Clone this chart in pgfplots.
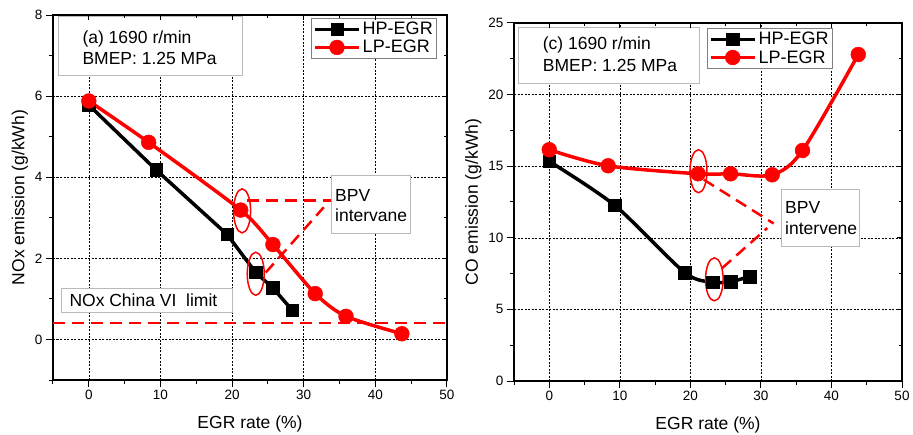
\documentclass[border=0pt]{standalone}
\usepackage{fontspec}
\setmainfont{Liberation Sans}
\usepackage{pgfplots}
\pgfplotsset{compat=1.18}
\tikzset{
 ann/.style={red, line width=2.5pt, dash pattern=on 12pt off 7pt},
 boxr/.style={draw=gray!55, line width=0.8pt, fill=white},
 txt/.style={anchor=base west, inner sep=0pt, font=\fontsize{17.5}{21}\selectfont},
}
\begin{document}
\begin{tikzpicture}
\path[use as bounding box] (0,0) rectangle (913pt,434pt);
\pgfplotsset{
 panel/.style={
  scale only axis, xmin=-5, xmax=50, xtick={0,10,...,50}, minor xtick={-5,5,15,25,35,45},
  axis line style={line width=1.2pt}, tick style={black, line width=1pt},
  major tick length=7pt, minor tick length=4pt, tick align=outside, xtick pos=left, ytick pos=left,
  xmajorgrids, ymajorgrids, major grid style={black, line width=0.6pt, dash pattern=on 2pt off 1.5pt},
  /pgf/number format/assume math mode=true,
  ticklabel style={font=\fontsize{13.5}{16}\selectfont},
  label style={font=\fontsize{17.5}{20}\selectfont},
  xlabel={EGR rate (\%)}, xlabel style={yshift=-9pt},
  legend style={draw=gray, line width=0.8pt, font=\fontsize{18}{21}\selectfont, cells={anchor=west}, inner sep=2pt},
  legend image code/.code={\draw[mark repeat=2,mark phase=2,##1] plot coordinates {(0pt,0pt) (22pt,0pt) (44pt,0pt)};},
 },
 overlay/.style={
  scale only axis, xmin=-5, xmax=50, xtick={0,10,...,50}, minor xtick={-5,5,15,25,35,45},
  axis x line*=top, axis y line*=right, axis line style={line width=1.2pt,-},
  tick style={black, line width=1pt}, major tick length=5pt, minor tick length=3pt, tick align=inside,
  xticklabels={}, yticklabels={},
 },
 hp/.style={black, line width=3.5pt, mark=square*, mark size=6.2pt, mark options={solid, line width=0.5pt}},
 lp/.style={red, line width=3.5pt, mark=*, mark size=7.4pt, mark options={solid, line width=0.5pt}},
}
% ---------------- left panel ----------------
\begin{axis}[panel, at={(53pt,54pt)}, anchor=south west, width=394pt, height=365pt,
  ymin=-1, ymax=8, ytick={0,2,...,8}, minor ytick={-1,1,3,5,7},
  ylabel={NOx emission (g/kWh)},
  legend style={at={(axis description cs:0.975,0.992)}, anchor=north east}]
\addplot[red, line width=2.5pt, dash pattern=on 12pt off 7pt, forget plot] coordinates {(-5,0.4) (50,0.4)};
\addplot[hp] coordinates {(0,5.78) (9.4,4.18) (19.3,2.59) (23.3,1.65) (25.7,1.27) (28.4,0.72)};
\addplot[lp, smooth, tension=0.45] coordinates {(0,5.88) (8.35,4.86) (21.2,3.19) (25.7,2.34) (31.6,1.13) (35.9,0.57) (43.7,0.14)};
\legend{HP-EGR, LP-EGR}
\draw[red, line width=1.5pt] (axis cs:21.4,3.17) ellipse [x radius=8.5pt, y radius=22pt];
\draw[red, line width=1.5pt] (axis cs:23.3,1.62) ellipse [x radius=8.5pt, y radius=21.5pt];
\draw[ann] (axis cs:22.1,3.43) -- (axis cs:33.75,3.43);
\draw[ann] (axis cs:24.7,1.65) -- (axis cs:32.8,3.26);
\draw[boxr] (axis description cs:0.0135,0.9953) rectangle (axis description cs:0.4815,0.8356);
\node[txt] at (axis description cs:0.0744,0.9225) {(a) 1690 r/min};
\node[txt] at (axis description cs:0.0744,0.8649) {BMEP: 1.25 MPa};
\draw[boxr] (axis description cs:0.7074,0.5616) rectangle (axis description cs:0.9079,0.4027);
\node[txt] at (axis description cs:0.7157,0.4885) {BPV};
\node[txt] at (axis description cs:0.7157,0.4337) {intervane};
\draw[boxr] (axis description cs:0.0221,0.2512) rectangle (axis description cs:0.4561,0.1852);
\node[txt] at (axis description cs:0.0414,0.2008) {NOx China VI\ \ limit};
\end{axis}
\begin{axis}[overlay, at={(53pt,54pt)}, anchor=south west, width=394pt, height=365pt,
  ymin=-1, ymax=8, ytick={0,2,...,8}, minor ytick={-1,1,3,5,7}]
\end{axis}
% ---------------- right panel ----------------
\begin{axis}[panel, at={(514pt,53pt)}, anchor=south west, width=388pt, height=358pt,
  ymin=0, ymax=25, ytick={0,5,...,25}, minor ytick={2.5,7.5,12.5,17.5,22.5},
  ylabel={CO emission (g/kWh)},
  legend style={at={(axis description cs:0.822,0.986)}, anchor=north east}]
\addplot[hp, smooth, tension=0.45] coordinates {(0,15.34) (9.3,12.26) (19.2,7.57) (23.2,6.9) (25.7,6.94) (28.4,7.29)};
\addplot[lp, smooth, tension=0.5] coordinates {(0,16.15) (8.35,15.03) (21.1,14.47) (25.7,14.47) (31.6,14.4) (35.9,16.1) (43.8,22.8)};
\legend{HP-EGR, LP-EGR}
\draw[red, line width=1.5pt] (axis cs:21.15,14.65) ellipse [x radius=8.5pt, y radius=21.5pt];
\draw[red, line width=1.5pt] (axis cs:23.4,7.1) ellipse [x radius=8.8pt, y radius=21.5pt];
\draw[ann] (axis cs:21.9,14.06) -- (axis cs:31.8,11.0);
\draw[ann] (axis cs:24.5,7.88) -- (axis cs:30.9,10.68);
\draw[boxr] (axis description cs:0.0103,0.9888) rectangle (axis description cs:0.4768,0.8324);
\node[txt] at (axis description cs:0.074,0.9246) {(c) 1690 r/min};
\node[txt] at (axis description cs:0.074,0.864) {BMEP: 1.25 MPa};
\draw[boxr] (axis description cs:0.69,0.5363) rectangle (axis description cs:0.89,0.3751);
\node[txt] at (axis description cs:0.6985,0.4684) {BPV};
\node[txt] at (axis description cs:0.6985,0.4098) {intervene};
\end{axis}
\begin{axis}[overlay, at={(514pt,53pt)}, anchor=south west, width=388pt, height=358pt,
  ymin=0, ymax=25, ytick={0,5,...,25}, minor ytick={2.5,7.5,12.5,17.5,22.5}]
\end{axis}
\end{tikzpicture}
\end{document}
